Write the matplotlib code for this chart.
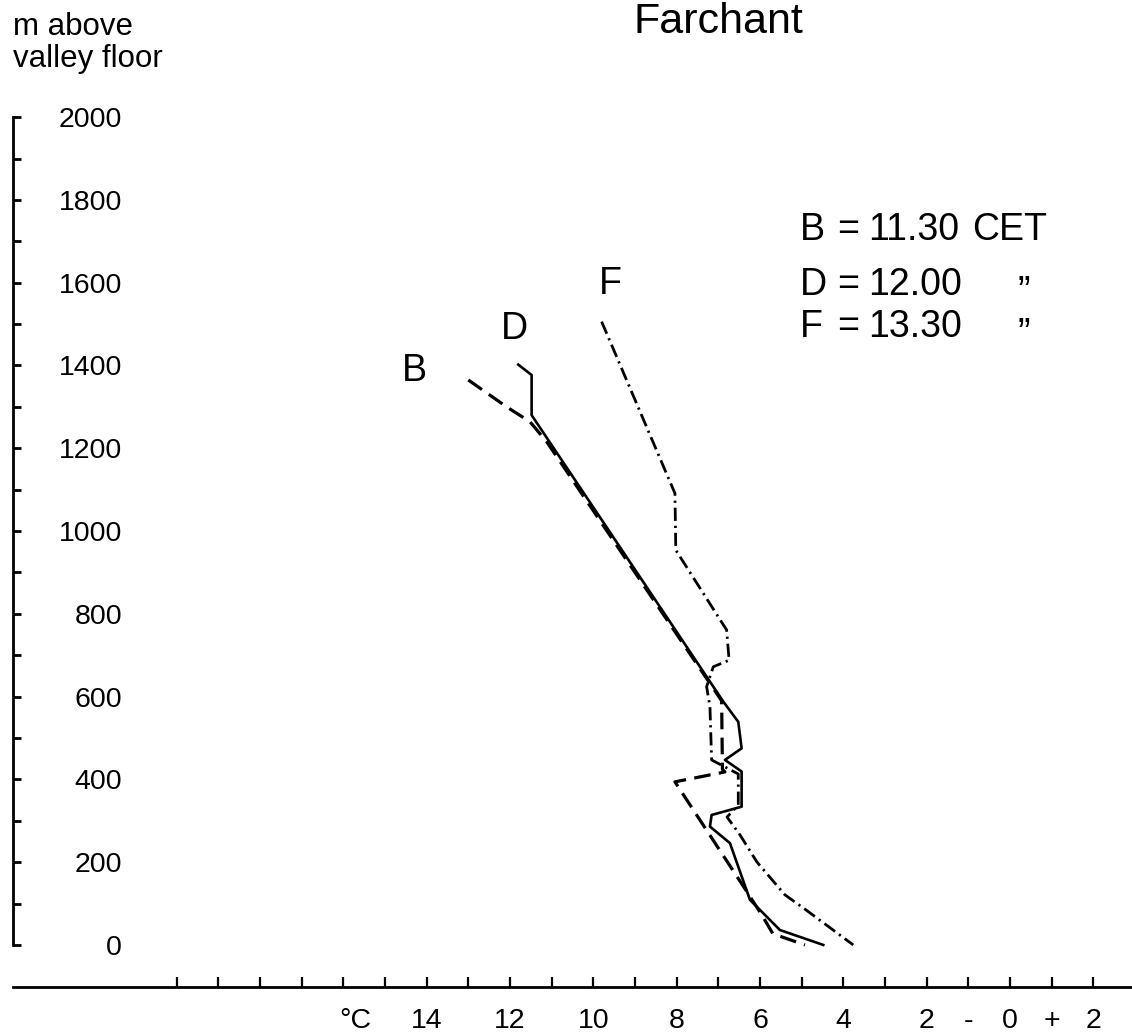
import matplotlib
matplotlib.use("Agg")
import matplotlib.pyplot as plt

plt.rcParams["font.family"] = ["Liberation Sans", "DejaVu Sans"]
plt.rcParams["lines.scale_dashes"] = False

# temperature profiles (deg C) against height above valley floor (m)
b_temp = [13.0, 12.08, 11.52, 11.12, 6.92, 6.90, 6.84, 8.04, 6.40, 5.94, 5.69, 4.92]
b_height = [1365, 1300, 1264, 1216, 590, 424, 418, 394, 142, 70, 27, 0]

d_temp = [11.80, 11.48, 11.48, 6.88, 6.52, 6.44, 6.84, 6.44, 6.44, 7.16, 7.20,
          6.72, 6.24, 5.52, 4.48]
d_height = [1402, 1377, 1280, 588, 539, 475, 447, 419, 334, 314, 286,
            246, 109, 36, 0]

f_temp = [9.80, 8.04, 8.02, 6.80, 6.74, 7.12, 7.28, 7.20, 7.16, 6.52, 6.52,
          6.79, 6.48, 6.07, 5.40, 4.90, 3.76]
f_height = [1506, 1091, 954, 761, 688, 672, 624, 576, 447, 413, 338,
            309, 266, 200, 121, 85, 0]

# curve letters placed next to the top of each profile
curve_names = ["B", "D", "F"]
curve_label_temp = [14.30, 11.90, 9.60]
curve_label_height = [1386, 1488, 1597]

# key
key_names = ["B", "D", "F"]
key_times = ["11.30", "12.00", "13.30"]
key_suffix = ["CET", "\u201d", "\u201d"]

x_ticks = list(range(20, -3, -1))
x_tick_text = {14: "14", 12: "12", 10: "10", 8: "8", 6: "6", 4: "4",
               2: "2", 1: "-", 0: "0", -1: "+", -2: "2"}
y_ticks = list(range(0, 2001, 100))

W, H = 1132, 1036
fig = plt.figure(figsize=(W / 100, H / 100), dpi=100)
ax = fig.add_axes([0, 0, 1, 1])
ax.set_xlim(24.24, -2.93)
ax.set_ylim(-220, 2283)

ax.plot(b_temp, b_height, color="black", lw=2.3, ls=(0, (12, 6)))
ax.plot(d_temp, d_height, color="black", lw=1.9, ls="-")
ax.plot(f_temp, f_height, color="black", lw=2.0, ls=(0, (9.5, 3.5, 1.6, 3.5)))

for name, t, h in zip(curve_names, curve_label_temp, curve_label_height):
    ax.text(t, h, name, fontsize=27, ha="center", va="center")

# axes drawn like the original: y axis at ~24 degC, x axis below ground level
axis_t = 23.93
for s in ["top", "right"]:
    ax.spines[s].set_visible(False)
ax.spines["left"].set_position(("data", axis_t))
ax.spines["left"].set_bounds(0, 2000)
ax.spines["bottom"].set_position(("data", -101.4))
ax.spines["bottom"].set_bounds(-2.93, axis_t)
ax.spines["left"].set_linewidth(2.0)
ax.spines["bottom"].set_linewidth(2.0)

ax.set_yticks(y_ticks)
ax.set_yticklabels([str(v) if v % 200 == 0 else "" for v in y_ticks])
ax.tick_params(axis="y", direction="in", length=6, width=2.0,
               pad=-78.5, labelsize=20.5)

ax.set_xticks(x_ticks)
ax.set_xticklabels([x_tick_text.get(v, "") for v in x_ticks])
ax.tick_params(axis="x", direction="in", length=7, width=1.6,
               pad=15, labelsize=20.5)

ax.annotate("\u00b0C", xy=(15.7, -101.4), xytext=(0, -15),
            textcoords="offset points", ha="center", va="top", fontsize=20.5)

# header texts
fig.text(13 / W, 1 - 35 / H, "m above", fontsize=22.5, va="baseline")
fig.text(13 / W, 1 - 67 / H, "valley floor", fontsize=22.5, va="baseline")
fig.text(718 / W, 1 - 33 / H, "Farchant", fontsize=31, ha="center", va="baseline")

key_rows_y = [230, 285, 327]
for name, tm, suf, y in zip(key_names, key_times, key_suffix, key_rows_y):
    fy = 1 - y / H
    fig.text(800 / W, fy, name, fontsize=27, va="center")
    fig.text(848 / W, fy, "=", fontsize=27, va="center", ha="center")
    fig.text(868 / W, fy, tm, fontsize=27, va="center")
    if suf == "CET":
        fig.text(972 / W, fy, suf, fontsize=27, va="center")
    else:
        fig.text(1018 / W, fy - 8 / H, suf, fontsize=27, va="center")

fig.savefig("out.png", dpi=100, facecolor="white")
